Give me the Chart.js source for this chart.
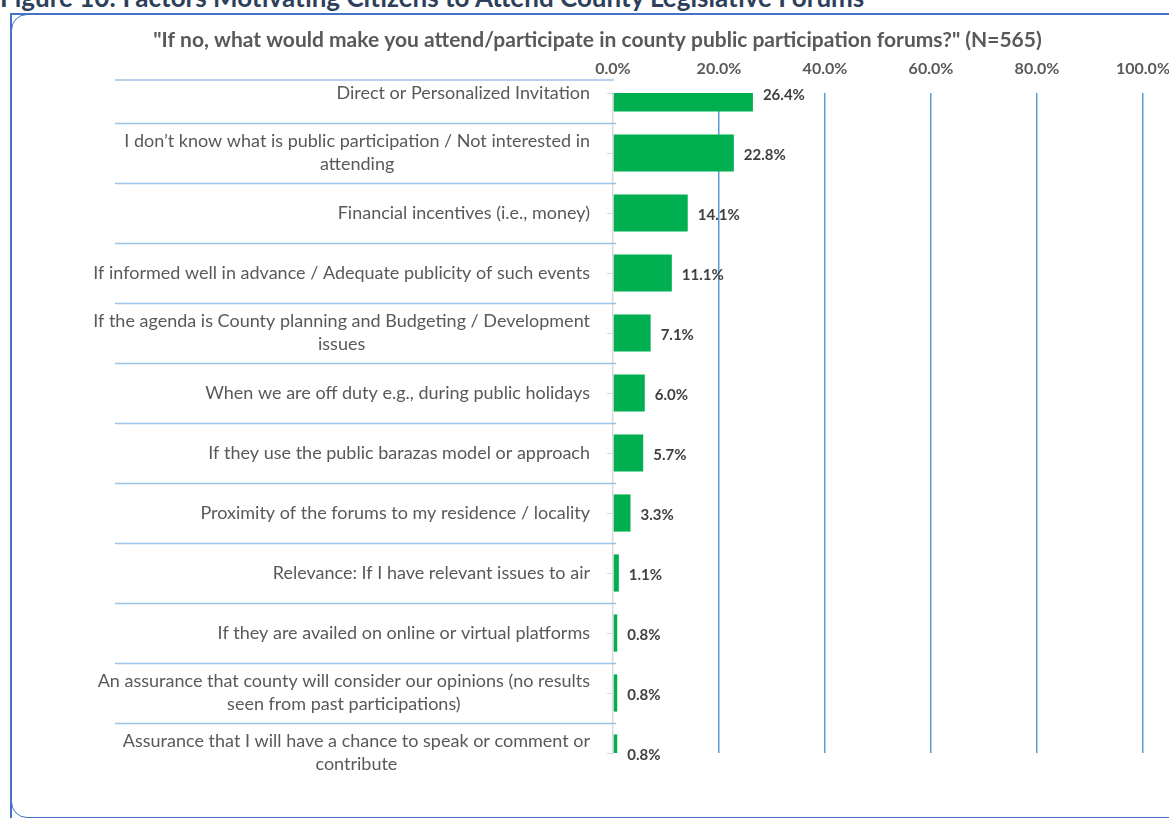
<!DOCTYPE html>
<html>
<head>
<meta charset="utf-8">
<script src="https://cdn.jsdelivr.net/npm/chart.js@4.4.1/dist/chart.umd.min.js"></script>
<style>
  html, body { margin: 0; padding: 0; background: #fff; overflow: hidden; }
  #fig { position: absolute; left: 0; top: -16px; font: bold 26px/26px Lato, sans-serif; color: #2e3f5c; white-space: nowrap; }
  #frame { position: absolute; left: 10px; top: 13px; width: 1200px; height: 850px;
           border-top: 2px solid #4472c4; border-left: 2px solid #4472c4; }
  #frame-in { position: absolute; left: 11px; top: 14px; width: 1200px; height: 802px;
              border: 1px solid #4472c4; border-radius: 16px; }
  #wrap { position: absolute; left: 0; top: 0; width: 1169px; height: 818px; }
</style>
</head>
<body>
<div id="fig">Figure 10: Factors Motivating Citizens to Attend County Legislative Forums</div>
<div id="frame"></div>
<div id="frame-in"></div>
<div id="wrap"><canvas id="chart"></canvas></div>
<script>
// answers to the follow-up question, top to bottom
var categories = [
    'Direct or Personalized Invitation',
    ['I don\u2019t know what is public participation / Not interested in', 'attending'],
    'Financial incentives (i.e., money)',
    'If informed well in advance / Adequate publicity of such events',
    ['If the agenda is County planning and Budgeting / Development', 'issues'],
    'When we are off duty e.g., during public holidays',
    'If they use the public barazas model or approach',
    'Proximity of the forums to my residence / locality',
    'Relevance: If I have relevant issues to air',
    'If they are availed on online or virtual platforms',
    ['An assurance that county will consider our opinions (no results', 'seen from past participations)'],
    ['Assurance that I will have a chance to speak or comment or', 'contribute']
];
var shares = [26.4, 22.8, 14.1, 11.1, 7.1, 6.0, 5.7, 3.3, 1.1, 0.8, 0.8, 0.8];
var axisTicks = [0, 20, 40, 60, 80, 100];

var FONT = 'Lato, "Open Sans", sans-serif';
var LABEL_PAD = 23;   // gap between category text and the axis line
var LINE_H = 23;

// blue rules between the category labels
var rowLines = {
    id: 'rowLines',
    beforeDatasetsDraw: function (chart) {
        var y = chart.scales.y, ctx = chart.ctx;
        var x0 = chart.chartArea.left - 498, x1 = chart.chartArea.left + 3;
        ctx.save();
        ctx.strokeStyle = '#9dc3e6';
        ctx.lineWidth = 1.5;
        ctx.beginPath();
        ctx.moveTo(x0, y.top - 13);
        ctx.lineTo(x1 - 2, y.top - 13);
        for (var i = 0; i < categories.length - 1; i++) {
            var py = Math.round((y.getPixelForValue(i) + y.getPixelForValue(i + 1)) / 2) + 0.5;
            ctx.moveTo(x0, py);
            ctx.lineTo(x1, py);
        }
        ctx.stroke();
        ctx.restore();
    }
};

// category text: block right-aligned to the axis, wrapped lines centred in the block
var rowLabels = {
    id: 'rowLabels',
    afterDraw: function (chart) {
        var y = chart.scales.y, ctx = chart.ctx;
        var right = chart.chartArea.left - LABEL_PAD;
        ctx.save();
        ctx.font = '18px ' + FONT;
        ctx.fillStyle = '#595959';
        ctx.textBaseline = 'middle';
        y.getLabels().forEach(function (lab, i) {
            var lines = Array.isArray(lab) ? lab : [lab];
            var cy = y.getPixelForValue(i);
            var w = Math.max.apply(null, lines.map(function (s) { return ctx.measureText(s).width; }));
            lines.forEach(function (s, j) {
                var ly = cy + (j - (lines.length - 1) / 2) * LINE_H;
                if (lines.length > 1) {
                    ctx.textAlign = 'center';
                    ctx.fillText(s, right - w / 2, ly);
                } else {
                    ctx.textAlign = 'right';
                    ctx.fillText(s, right, ly);
                }
            });
        });
        ctx.restore();
    }
};

// percentage next to each bar
var barValues = {
    id: 'barValues',
    afterDatasetsDraw: function (chart) {
        var ctx = chart.ctx;
        var meta = chart.getDatasetMeta(0);
        ctx.save();
        ctx.font = 'bold 15px ' + FONT;
        ctx.fillStyle = '#404040';
        ctx.textBaseline = 'middle';
        ctx.textAlign = 'left';
        meta.data.forEach(function (bar, i) {
            ctx.fillText(shares[i].toFixed(1) + '%', bar.x + 10, bar.y + 2);
        });
        ctx.restore();
    }
};

new Chart(document.getElementById('chart'), {
    type: 'bar',
    data: {
        labels: categories,
        datasets: [{
            data: shares,
            backgroundColor: '#00b050',
            borderWidth: 0,
            barPercentage: 0.62,
            categoryPercentage: 1,
            clip: 0
        }]
    },
    options: {
        indexAxis: 'y',
        responsive: true,
        maintainAspectRatio: false,
        animation: false,
        layout: { padding: { left: 52, right: 26, top: 0, bottom: 65 } },
        plugins: {
            legend: { display: false },
            tooltip: { enabled: false },
            title: {
                display: true,
                text: '"If no, what would make you attend/participate in county public participation forums?" (N=565)',
                color: '#595959',
                font: { family: FONT, size: 21, weight: 'bold', lineHeight: 1.2 },
                padding: { top: 28, bottom: 0 }
            }
        },
        scales: {
            x: {
                position: 'top',
                min: 0,
                max: 100,
                afterBuildTicks: function (s) {
                    s.ticks = axisTicks.map(function (v) { return { value: v }; });
                },
                afterFit: function (s) {
                    s.paddingLeft = 0;
                    s.paddingRight = 0;
                    s.height = 39.8;
                },
                border: { display: false },
                grid: {
                    drawTicks: false,
                    lineWidth: 1.5,
                    color: function (c) { return c.tick && c.tick.value === 0 ? 'rgba(0,0,0,0)' : '#5b9bd5'; }
                },
                ticks: {
                    padding: 15,
                    color: '#595959',
                    font: { family: FONT, size: 16, weight: 'bold' },
                    callback: function (v) { return v.toFixed(1) + '%'; }
                }
            },
            y: {
                offset: false,
                afterFit: function (s) {
                    s.width = 561;
                    s.paddingTop = 0;
                    s.paddingBottom = 0;
                },
                border: { display: true, color: '#d9d9d9', width: 1.5 },
                grid: {
                    offset: false,
                    drawOnChartArea: false,
                    tickLength: 6,
                    color: '#d9d9d9'
                },
                ticks: { display: false, autoSkip: false }
            }
        }
    },
    plugins: [rowLines, rowLabels, barValues]
});
</script>
</body>
</html>
